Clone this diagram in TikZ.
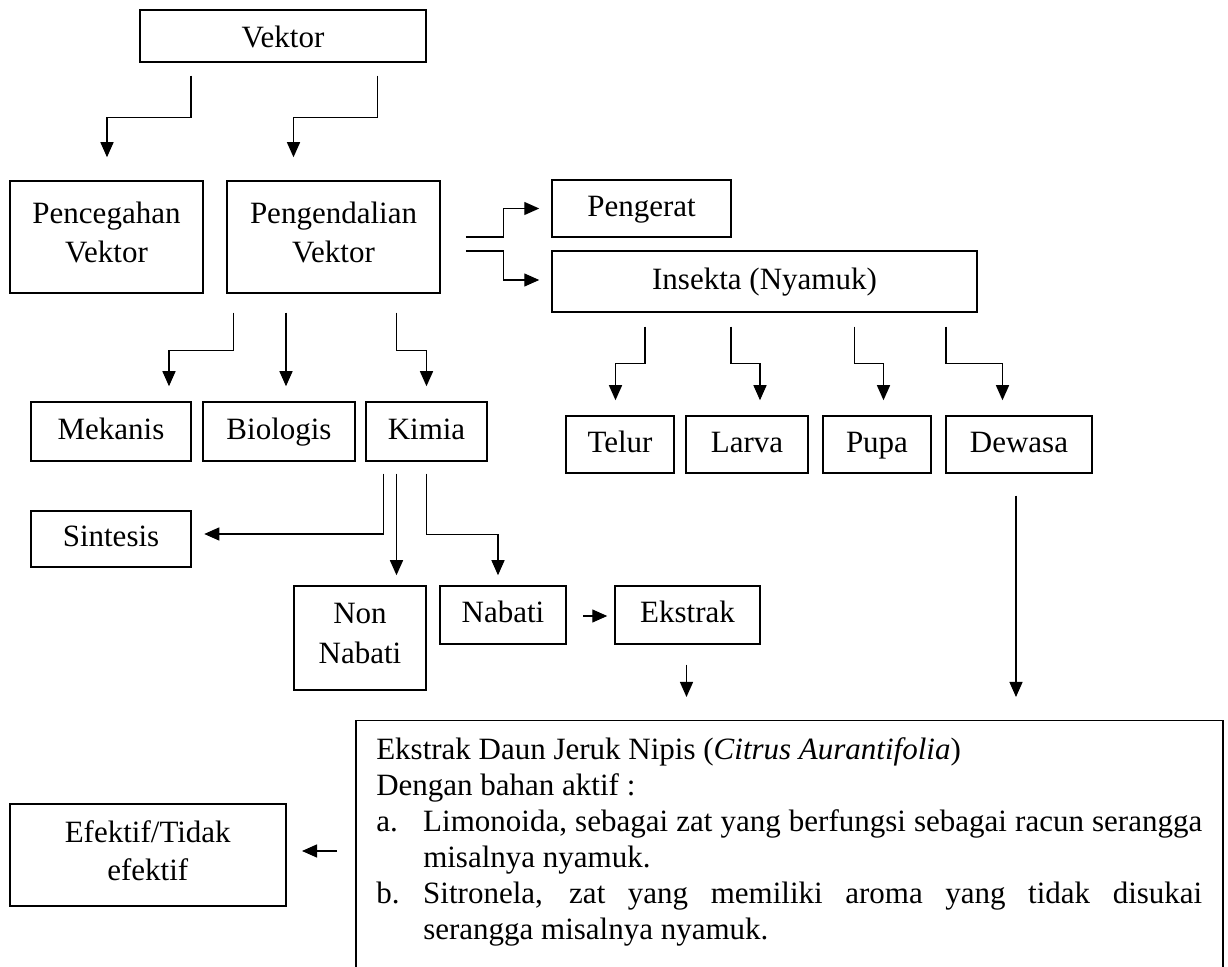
\documentclass[tikz,border=0pt]{standalone}
\usepackage{fontspec}
\setmainfont{Liberation Serif}
\usepackage{tikz}
\usetikzlibrary{arrows.meta,calc,positioning}
\tikzset{
  block/.style={
    draw,
    line width=0.75pt,
    align=center,
    inner sep=2pt,
    text height=11pt,
    text depth=3pt,
    minimum height=28.5pt
  },
  twoline/.style={
    text height={},
    text depth=4.5pt
  },
  line/.style={
    -{Triangle[length=7.5pt,width=6.5pt]},
    line width=0.65pt
  },
  textbox/.style={
    draw,
    line width=0.75pt,
    anchor=north west,
    inner xsep=10pt,
    inner ysep=8.5pt,
    minimum width=433.5pt
  }
}

\begin{document}
\begin{tikzpicture}[x=0.5pt, y=-0.5pt, font=\fontsize{15.5}{19.75}\selectfont]
  \useasboundingbox (0,0) rectangle (1228,967);
  \clip (0,0) rectangle (1228,967);

  \node[block, minimum width=143pt, minimum height=26pt, text height=14pt, text depth=2pt] (vektor) at (283,36) {Vektor};
  \node[block, twoline, minimum width=96.5pt, minimum height=56pt] (pencegahan) at (106.5,237) {Pencegahan\\Vektor};
  \node[block, twoline, minimum width=106.5pt, minimum height=56pt] (pengendalian) at (333.5,237) {Pengendalian\\Vektor};
  \node[block, minimum width=89.5pt] (pengerat) at (641.5,208.5) {Pengerat};
  \node[block, minimum width=212.5pt, minimum height=30.5pt] (insekta) at (764.5,281.5) {Insekta (Nyamuk)};

  \node[block, minimum width=80pt, minimum height=29.5pt] (mekanis) at (111,431.5) {Mekanis};
  \node[block, minimum width=76pt, minimum height=29.5pt] (biologis) at (279,431.5) {Biologis};
  \node[block, minimum width=60.5pt, minimum height=29.5pt] (kimia) at (426.5,431.5) {Kimia};

  \node[block, minimum width=54pt] (telur) at (620,444.5) {Telur};
  \node[block, minimum width=61pt] (larva) at (747,444.5) {Larva};
  \node[block, minimum width=54pt] (pupa) at (877,444.5) {Pupa};
  \node[block, minimum width=73pt] (dewasa) at (1019,444.5) {Dewasa};

  \node[block, minimum width=80pt, minimum height=28pt] (sintesis) at (111,539) {Sintesis};
  \node[block, twoline, minimum width=66pt, minimum height=52pt] (nonnabati) at (360,638) {Non\\Nabati};
  \node[block, minimum width=63pt, minimum height=29pt] (nabati) at (503,615) {Nabati};
  \node[block, minimum width=72.5pt, minimum height=29pt] (ekstrak) at (687.5,615) {Ekstrak};

  \node[block, twoline, minimum width=138pt, minimum height=51pt, font=\fontsize{15.5}{19}\selectfont] (efektif) at (147.75,855) {Efektif/Tidak\\efektif};

  \node[textbox] (daun) at (355,720) {%
    \begin{minipage}[t][140pt][t]{413pt}
      \fontsize{15.5}{18}\selectfont\sloppy
      Ekstrak Daun Jeruk Nipis (\textit{Citrus Aurantifolia})\par
      Dengan bahan aktif :\par
      \hangindent=23.5pt\hangafter=1\noindent\makebox[23.5pt][l]{a.}Limonoida, sebagai zat yang berfungsi sebagai racun serangga\linebreak
      misalnya nyamuk.\par
      \hangindent=23.5pt\hangafter=1\noindent\makebox[23.5pt][l]{b.}Sitronela, zat yang memiliki aroma yang tidak disukai\linebreak
      serangga misalnya nyamuk.\par
    \end{minipage}};

  \draw[line] ($(vektor.south)+(-92,13)$) -- ++(0,42) -| ($(pencegahan.north)+(0.5,-23)$);
  \draw[line] ($(vektor.south)+(94.6,13)$) -- ++(0,42) -| ($(pengendalian.north)+(-40,-23)$);
  \draw[line] ($(pengendalian.east)+(25,0)$) -- ++(38,0) |- ($(pengerat.west)+(-12,0)$);
  \draw[line] ($(pengendalian.east)+(25,14)$) -- ++(38,0) |- ($(insekta.west)+(-12,-1.5)$);
  \draw[line] ($(pengendalian.south)+(-100,19)$) -- ++(0,38) -| ($(mekanis.north)+(58,-15)$);
  \draw[line] ($(pengendalian.south)+(-47.5,19)$) -- ($(biologis.north)+(7,-15)$);
  \draw[line] ($(pengendalian.south)+(63,19)$) -- ++(0,38) -| ($(kimia.north)+(0,-15)$);
  \draw[line] ($(kimia.south)+(-43,12)$) |- ($(sintesis.east)+(12.5,-5)$);
  \draw[line] ($(kimia.south)+(-30,12)$) -- ($(nonnabati.north)+(36.5,-10)$);
  \draw[line] ($(kimia.south)+(0,12)$) -- ++(0,61) -| ($(nabati.north)+(-5,-10)$);
  \draw[line] ($(nabati.east)+(16.5,1)$) -- ($(ekstrak.west)+(-7,1)$);
  \draw[line] ($(insekta.south)+(-119.5,14)$) -- ++(0,37) -| ($(telur.north)+(-4.5,-15)$);
  \draw[line] ($(insekta.south)+(-33.5,14)$) -- ++(0,37) -| ($(larva.north)+(13,-15)$);
  \draw[line] ($(insekta.south)+(90,14)$) -- ++(0,37) -| ($(pupa.north)+(6.5,-15)$);
  \draw[line] ($(insekta.south)+(181.5,14)$) -- ++(0,37) -| ($(dewasa.north)+(-16.5,-15)$);
  \draw[line, shorten >=11.5pt] ($(dewasa.south)+(-3,22)$) coordinate (d1) -- (d1 |- daun.north);
  \draw[line, shorten >=11.5pt] ($(ekstrak.south)+(-1,20)$) coordinate (e1) -- (e1 |- daun.north);
  \draw[line] ($(daun.west |- efektif.east)+(-18,-4)$) -- ($(efektif.east)+(15.5,-4)$);
\end{tikzpicture}
\end{document}
